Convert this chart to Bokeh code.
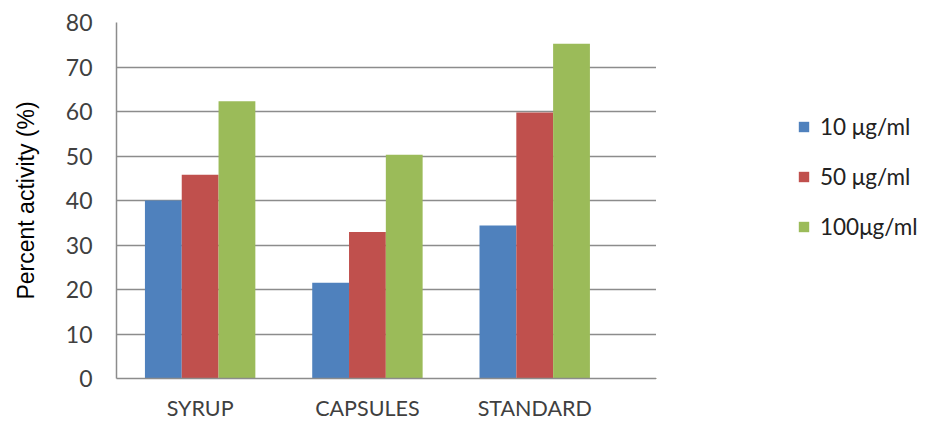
from bokeh.plotting import figure
from bokeh.layouts import row
from bokeh.models import Range1d, FixedTicker, Legend, LegendItem, ColumnDataSource
from bokeh.embed import file_html
from bokeh.resources import INLINE

categories = ["SYRUP", "CAPSULES", "STANDARD"]
series_names = ["10 μg/ml", "50 μg/ml", "100μg/ml"]
s10 = [40.0, 21.5, 34.4]
s50 = [45.8, 32.9, 59.8]
s100 = [62.3, 50.3, 75.2]
y_ticks = [0, 10, 20, 30, 40, 50, 60, 70, 80]
colors = ["#4F81BD", "#C0504D", "#9BBB59"]

p = figure(width=656, height=423, output_backend="svg", toolbar_location=None,
           x_range=Range1d(0, 3.228), y_range=Range1d(0, 80),
           min_border_left=116, min_border_right=0, min_border_top=22, min_border_bottom=42)
p.outline_line_color = None
p.background_fill_color = "white"

bw = 0.22
offsets = [-bw, 0.0, bw]
sources = []
for vals, off, col in zip([s10, s50, s100], offsets, colors):
    src = ColumnDataSource(dict(x=[i + 0.5 + off for i in range(len(categories))], top=vals))
    sources.append(src)
    p.vbar(x="x", top="top", width=bw, bottom=0, source=src, fill_color=col, line_color=None)

p.xaxis.ticker = FixedTicker(ticks=[i + 0.5 for i in range(len(categories))])
p.xaxis.major_label_overrides = {i + 0.5: c for i, c in enumerate(categories)}
p.yaxis.ticker = FixedTicker(ticks=y_ticks)

for ax in (p.xaxis, p.yaxis):
    ax.axis_line_color = "#8C8C8C"
    ax.axis_line_width = 1.5
    ax.major_tick_line_color = None
    ax.minor_tick_line_color = None
    ax.major_tick_out = 0
    ax.major_tick_in = 0
    ax.minor_tick_out = 0
    ax.major_label_text_font = "Lato"
    ax.major_label_text_color = "#404040"

p.xaxis.major_label_text_font_size = "21.5px"
p.yaxis.major_label_text_font_size = "23px"
p.xaxis.major_label_standoff = 16
p.yaxis.major_label_standoff = 24
p.yaxis.axis_label = "Percent activity (%)"
p.yaxis.axis_label_text_font = "Liberation Sans"
p.yaxis.axis_label_text_font_style = "normal"
p.yaxis.axis_label_text_font_size = "23px"
p.yaxis.axis_label_text_color = "black"
p.yaxis.axis_label_standoff = 24

p.xgrid.grid_line_color = None
p.ygrid.grid_line_color = "#8C8C8C"
p.ygrid.grid_line_width = 1.5

# Legend panel on the right (its own bars lie far outside its visible range; only the legend shows)
p2 = figure(width=273, height=423, output_backend="svg", toolbar_location=None,
            x_range=Range1d(1000, 1001), y_range=Range1d(1000, 1001),
            min_border_left=0, min_border_right=0, min_border_top=0, min_border_bottom=0)
p2.axis.visible = False
p2.grid.visible = False
p2.outline_line_color = None
leg_renderers = []
for src, col in zip(sources, colors):
    leg_renderers.append(p2.vbar(x="x", top="top", width=bw, bottom=0, source=src,
                                 fill_color=col, line_color=None))

legend = Legend(items=[LegendItem(label=n, renderers=[r]) for n, r in zip(series_names, leg_renderers)],
                location=(141, 138), orientation="vertical",
                glyph_width=13, glyph_height=13, spacing=23, padding=0, margin=0,
                label_text_font="Lato", label_text_font_size="22.5px", label_text_color="#222222",
                label_height=23, label_standoff=10, border_line_color=None, background_fill_alpha=0)
p2.add_layout(legend, "center")

layout = row(p, p2, spacing=0)
open("out.html", "w").write(file_html(layout, INLINE))
